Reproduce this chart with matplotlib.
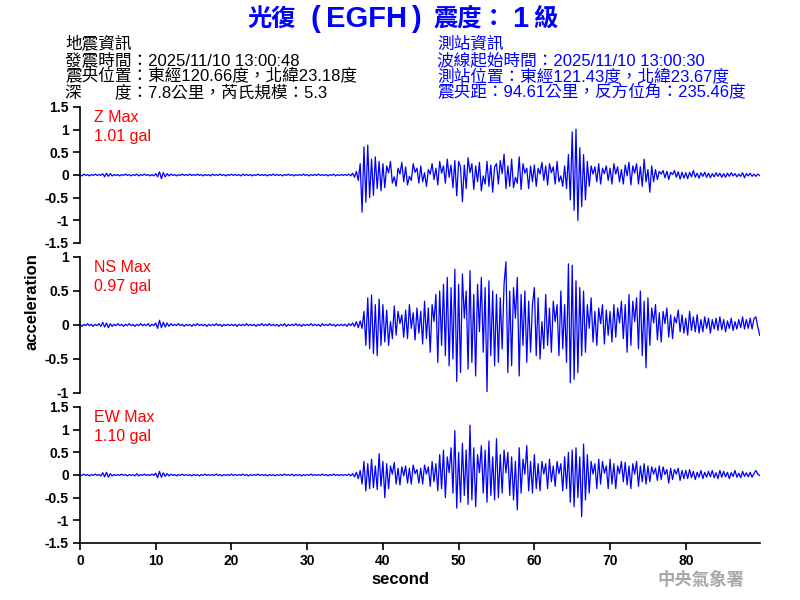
#!/usr/bin/env python3
"""Three-component acceleration record for station EGFH (光復)."""

import numpy as np
import matplotlib
matplotlib.use("Agg")
import matplotlib.pyplot as plt

DT = 0.25  # seconds between samples

# --- waveform samples (gal), 20 samples = 5 s per row ---
z_values = [
    0.01, -0.02, 0.02, -0.01, 0.01, -0.02, 0.01, -0.01, 0.02, -0.01, 0.01, -0.01, 0.03, -0.04, 0.04, -0.03, 0.03, -0.02, 0.01, -0.01,
    0.01, -0.02, 0.01, -0.01, 0.02, -0.01, 0.01, -0.02, 0.01, -0.01, 0.02, -0.02, 0.01, -0.01, 0.02, -0.01, 0.01, -0.02, 0.01, -0.02,
    0.03, -0.04, 0.07, -0.08, 0.05, -0.04, 0.03, -0.02, 0.02, -0.01, 0.01, -0.02, 0.01, -0.01, 0.02, -0.01, 0.01, -0.01, 0.02, -0.01,
    0.01, -0.01, 0.02, -0.01, 0.01, -0.02, 0.01, -0.01, 0.01, -0.02, 0.02, -0.01, 0.01, -0.01, 0.02, -0.01, 0.01, -0.02, 0.01, -0.01,
    0.02, -0.01, 0.01, -0.01, 0.01, -0.02, 0.02, -0.01, 0.01, -0.01, 0.01, -0.02, 0.01, -0.01, 0.02, -0.01, 0.01, -0.01, 0.01, -0.02,
    0.01, -0.01, 0.02, -0.01, 0.01, -0.01, 0.01, -0.02, 0.01, -0.01, 0.02, -0.01, 0.01, -0.02, 0.01, -0.01, 0.01, -0.01, 0.02, -0.01,
    0.01, -0.02, 0.01, -0.01, 0.01, -0.01, 0.02, -0.01, 0.01, -0.01, 0.01, -0.02, 0.01, -0.01, 0.02, -0.02, 0.01, -0.01, 0.01, -0.01,
    0.01, -0.01, 0.02, -0.02, 0.04, -0.05, 0.08, -0.12, 0.25, -0.82, 0.62, -0.6, 0.66, -0.5, 0.35, -0.45, 0.4, -0.3, 0.3, -0.35,
    0.25, -0.28, 0.2, 0.05, 0.3, -0.18, -0.04, -0.25, 0.15, 0.02, 0.28, -0.15, 0.18, -0.22, -0.03, -0.12, 0.25, 0.06, 0.15, -0.18,
    0.2, -0.15, 0.05, -0.25, 0.12, 0.02, 0.25, -0.1, 0.15, -0.22, 0.3, 0.04, 0.2, -0.18, 0.35, -0.05, 0.22, -0.28, 0.32, -0.46,
    0.3, 0.18, -0.59, 0.22, -0.3, 0.38, 0.05, 0.25, -0.32, 0.2, -0.15, 0.28, -0.35, -0.02, -0.2, 0.3, -0.25, 0.22, -0.38, 0.18,
    0.25, -0.2, 0.32, 0.03, 0.46, -0.3, 0.2, -0.25, 0.35, -0.28, -0.05, -0.18, 0.4, -0.32, 0.25, 0.04, 0.15, -0.3, 0.2, -0.15,
    0.22, -0.25, 0.15, 0.02, 0.28, -0.12, 0.2, -0.22, 0.25, 0.05, 0.18, -0.2, 0.3, -0.15, -0.02, -0.25, 0.2, -0.3, 0.45, -0.55,
    0.95, -0.78, 1.01, -1.0, 0.6, -0.7, 0.45, -0.55, 0.3, -0.25, 0.2, 0.02, 0.18, -0.15, 0.25, -0.2, 0.15, 0.03, 0.2, -0.12,
    0.15, -0.2, 0.25, 0.02, 0.18, -0.15, 0.12, -0.2, 0.22, -0.02, 0.28, -0.22, 0.2, 0.04, 0.25, -0.2, 0.18, -0.25, 0.35, -0.15,
    0.12, -0.38, 0.2, -0.15, 0.12, -0.1, 0.08, 0.02, 0.1, -0.06, 0.08, -0.1, 0.06, 0.01, 0.1, -0.05, 0.07, -0.09, 0.06, -0.07,
    0.05, -0.08, 0.06, -0.04, 0.1, -0.05, 0.04, -0.07, 0.05, -0.03, 0.06, -0.05, 0.04, -0.06, 0.03, -0.04, 0.05, -0.03, 0.04, -0.05,
    0.03, -0.05, 0.04, -0.03, 0.05, -0.02, 0.03, -0.04, 0.02, -0.03, 0.05, -0.06, 0.03, -0.02, 0.04, -0.03, 0.02, -0.03, 0.02, -0.01,
]

ns_values = [
    0.01, -0.02, 0.01, -0.01, 0.02, -0.01, 0.01, -0.02, 0.01, -0.01, 0.02, -0.02, 0.04, -0.03, 0.03, -0.04, 0.02, -0.02, 0.01, -0.01,
    0.02, -0.01, 0.01, -0.02, 0.01, -0.01, 0.02, -0.01, 0.01, -0.02, 0.01, -0.01, 0.02, -0.01, 0.01, -0.01, 0.02, -0.02, 0.01, -0.01,
    0.03, -0.05, 0.07, -0.04, 0.04, -0.03, 0.03, -0.02, 0.02, -0.01, 0.01, -0.01, 0.02, -0.01, 0.01, -0.02, 0.01, -0.01, 0.01, -0.02,
    0.01, -0.01, 0.02, -0.01, 0.01, -0.01, 0.01, -0.02, 0.01, -0.01, 0.01, -0.01, 0.02, -0.01, 0.01, -0.02, 0.01, -0.01, 0.01, -0.01,
    0.01, -0.01, 0.01, -0.02, 0.01, -0.01, 0.01, -0.01, 0.02, -0.01, 0.01, -0.01, 0.01, -0.02, 0.01, -0.01, 0.02, -0.01, 0.01, -0.01,
    0.02, -0.01, 0.01, -0.01, 0.01, -0.02, 0.01, -0.01, 0.02, -0.02, 0.01, -0.01, 0.01, -0.01, 0.02, -0.01, 0.01, -0.02, 0.01, -0.01,
    0.01, -0.01, 0.02, -0.01, 0.01, -0.01, 0.01, -0.02, 0.02, -0.01, 0.01, -0.01, 0.02, -0.01, 0.01, -0.02, 0.01, -0.01, 0.01, -0.01,
    0.01, -0.02, 0.02, -0.01, 0.03, -0.02, 0.05, -0.04, 0.06, -0.05, 0.2, -0.3, 0.4, -0.35, 0.44, -0.42, 0.3, -0.45, 0.38, -0.3,
    0.3, -0.25, 0.22, -0.3, 0.05, -0.2, 0.28, -0.15, 0.2, 0.02, 0.15, -0.18, 0.22, -0.2, 0.3, -0.05, 0.18, -0.22, 0.25, -0.12,
    0.2, -0.28, 0.35, -0.2, 0.25, -0.4, 0.3, 0.05, 0.45, -0.55, 0.5, -0.3, 0.6, -0.45, 0.7, -0.6, 0.55, -0.5, 0.82, -0.83,
    0.6, -0.7, 0.75, 0.1, 0.5, -0.65, 0.8, -0.55, 0.45, -0.75, 0.6, -0.1, 0.7, -0.4, 0.55, -0.98, 0.65, -0.45, 0.5, -0.6,
    0.45, -0.55, 0.4, -0.35, 0.6, 0.93, -0.7, 0.5, -0.6, 0.55, 0.1, 0.7, -0.75, 0.45, -0.3, 0.5, -0.55, 0.35, -0.4, 0.3,
    0.55, -0.45, 0.4, -0.5, 0.05, -0.35, 0.45, -0.3, 0.25, -0.4, 0.35, 0.05, 0.3, -0.45, 0.5, -0.35, 0.3, -0.55, 0.9, -0.85,
    0.88, -0.8, 0.65, -0.7, 0.55, -0.45, 0.5, -0.4, 0.3, -0.05, 0.4, -0.25, 0.2, -0.3, 0.25, 0.02, 0.3, -0.28, 0.22, -0.15,
    0.2, -0.25, 0.3, -0.18, 0.25, 0.03, 0.35, -0.2, 0.3, -0.4, 0.45, -0.3, 0.35, 0.05, 0.4, -0.35, 0.5, -0.45, 0.35, -0.63,
    0.4, -0.3, 0.25, 0.03, 0.3, -0.22, 0.18, -0.25, 0.2, 0.02, 0.25, -0.18, 0.15, -0.2, 0.12, 0.03, 0.22, -0.1, 0.15, -0.12,
    0.1, -0.15, 0.2, -0.08, 0.12, -0.1, 0.15, -0.12, 0.08, -0.1, 0.12, -0.05, 0.1, -0.12, 0.08, -0.06, 0.1, -0.08, 0.12, -0.07,
    0.08, -0.1, 0.06, -0.05, 0.1, -0.08, 0.05, -0.06, 0.08, -0.04, 0.12, -0.06, 0.08, -0.05, 0.1, -0.06, 0.09, 0.12, -0.02, -0.15,
]

ew_values = [
    0.01, -0.01, 0.02, -0.01, 0.01, -0.02, 0.01, -0.01, 0.02, -0.01, 0.01, -0.02, 0.05, -0.04, 0.06, -0.05, 0.03, -0.02, 0.01, -0.01,
    0.01, -0.01, 0.02, -0.01, 0.01, -0.02, 0.01, -0.01, 0.01, -0.02, 0.03, -0.02, 0.01, -0.01, 0.02, -0.01, 0.01, -0.01, 0.02, -0.01,
    0.04, -0.06, 0.08, -0.05, 0.05, -0.03, 0.03, -0.02, 0.02, -0.01, 0.01, -0.02, 0.01, -0.01, 0.02, -0.01, 0.01, -0.01, 0.01, -0.02,
    0.01, -0.01, 0.01, -0.02, 0.01, -0.01, 0.02, -0.01, 0.01, -0.01, 0.01, -0.01, 0.02, -0.01, 0.01, -0.02, 0.01, -0.01, 0.01, -0.01,
    0.02, -0.01, 0.01, -0.01, 0.01, -0.01, 0.02, -0.01, 0.01, -0.02, 0.01, -0.01, 0.01, -0.01, 0.02, -0.01, 0.01, -0.01, 0.01, -0.02,
    0.01, -0.01, 0.01, -0.02, 0.01, -0.01, 0.01, -0.01, 0.02, -0.01, 0.01, -0.01, 0.02, -0.02, 0.01, -0.01, 0.01, -0.02, 0.01, -0.01,
    0.01, -0.01, 0.02, -0.01, 0.01, -0.01, 0.01, -0.01, 0.02, -0.01, 0.01, -0.02, 0.01, -0.01, 0.02, -0.01, 0.01, -0.01, 0.01, -0.01,
    0.01, -0.01, 0.02, -0.02, 0.03, -0.04, 0.06, -0.08, 0.1, -0.2, 0.3, -0.35, 0.25, -0.3, 0.35, -0.28, 0.2, -0.32, 0.47, -0.25,
    0.3, -0.5, 0.25, -0.3, 0.2, 0.02, 0.28, -0.2, 0.15, -0.22, 0.18, -0.02, 0.2, -0.18, 0.15, -0.2, 0.22, 0.03, 0.12, -0.18,
    0.15, -0.2, 0.22, 0.02, 0.18, -0.25, 0.3, -0.15, 0.25, -0.35, 0.45, -0.3, 0.55, -0.5, 0.4, 0.05, 0.6, -0.4, 0.98, -0.73,
    0.5, -0.6, 0.7, -0.45, 0.55, -0.65, 1.1, -0.55, 0.6, -0.7, 0.45, 0.05, 0.65, -0.4, 0.55, -0.6, 0.75, -0.45, 0.4, -0.55,
    0.8, -0.5, 0.45, -0.4, 0.55, 0.05, 0.5, -0.45, 0.4, -0.55, 0.3, -0.77, 0.6, -0.4, 0.35, 0.02, 0.65, -0.35, 0.3, -0.4,
    0.45, -0.3, 0.25, -0.35, 0.3, 0.02, 0.25, -0.3, 0.35, -0.15, 0.2, -0.25, 0.3, 0.03, 0.25, -0.35, 0.4, -0.3, 0.5, -0.6,
    0.55, -0.7, 0.6, -0.5, 0.4, -0.92, 0.68, -0.55, 0.45, -0.4, 0.3, 0.02, 0.25, -0.3, 0.35, -0.2, 0.3, 0.04, 0.2, -0.3,
    0.35, -0.2, 0.25, -0.3, 0.2, 0.03, 0.3, -0.15, 0.28, -0.22, 0.2, -0.3, 0.25, 0.02, 0.3, -0.25, 0.2, -0.15, 0.25, -0.2,
    0.2, -0.15, 0.18, 0.02, 0.15, -0.12, 0.2, -0.1, 0.18, 0.01, 0.12, -0.18, 0.15, -0.1, 0.12, 0.02, 0.15, -0.12, 0.1, -0.08,
    0.1, -0.08, 0.12, -0.06, 0.08, -0.1, 0.06, -0.05, 0.1, -0.08, 0.06, -0.05, 0.08, -0.04, 0.1, -0.06, 0.05, -0.08, 0.1, -0.05,
    0.08, -0.04, 0.06, -0.08, 0.05, -0.03, 0.1, -0.05, 0.04, -0.06, 0.08, -0.03, 0.05, -0.04, 0.06, -0.05, 0.03, 0.1, 0.02, -0.01,
]

components = ["Z", "NS", "EW"]
peak_labels = ["1.01 gal", "0.97 gal", "1.10 gal"]
y_limits = [1.5, 1.0, 1.5]
x_ticks = [0, 10, 20, 30, 40, 50, 60, 70, 80]

# title split into CJK / Latin runs (left edge in px, text, latin?)
title_parts = [
    (247, "光復", False),
    (310, "(", True),
    (326, "EGFH", True),
    (411, ")", True),
    (434, "震度：", False),
    (512, "1", True),
    (533, "級", False),
]
quake_info = [
    "地震資訊",
    "發震時間：2025/11/10 13:00:48",
    "震央位置：東經120.66度，北緯23.18度",
    "深\u3000\u3000度：7.8公里，芮氏規模：5.3",
]
station_info = [
    "測站資訊",
    "波線起始時間：2025/11/10 13:00:30",
    "測站位置：東經121.43度，北緯23.67度",
    "震央距：94.61公里，反方位角：235.46度",
]

FONT = ["Liberation Sans", "Noto Sans CJK TC", "DejaVu Sans"]
CJK = ["Noto Sans CJK TC", "DejaVu Sans"]
BLUE = "#0000ff"


def main():
    plt.rcParams["font.family"] = FONT
    fig = plt.figure(figsize=(8, 6), dpi=100)

    traces = [z_values, ns_values, ew_values]
    # panel tops/bottoms in figure pixels
    panels = [(107, 243), (257, 393), (407, 543)]

    for i, (top, bottom) in enumerate(panels):
        ax = fig.add_axes([80 / 800, 1 - bottom / 600, 680 / 800, (bottom - top) / 600])
        data = np.array(traces[i])
        t = np.arange(len(data)) * DT
        ax.plot(t, data, color=BLUE, lw=0.9)
        lim = y_limits[i]
        ax.set_ylim(-lim, lim)
        ax.set_xlim(0, 89.8)
        ticks = np.arange(-lim, lim + 0.01, 0.5)
        ax.set_yticks(ticks)
        ax.set_yticklabels([f"{v:g}" for v in ticks])
        for side in ["top", "right"]:
            ax.spines[side].set_visible(False)
        ax.spines["left"].set_linewidth(1.2)
        ax.tick_params(axis="y", direction="out", length=5, width=1.2, labelsize=10, pad=3)
        for lab in ax.get_yticklabels():
            lab.set_fontweight("bold")
        if i < 2:
            ax.spines["bottom"].set_visible(False)
            ax.set_xticks([])
        else:
            ax.spines["bottom"].set_linewidth(1.2)
            ax.set_xticks(x_ticks)
            ax.tick_params(axis="x", direction="out", length=5, width=1.2, labelsize=10, pad=3)
            for lab in ax.get_xticklabels():
                lab.set_fontweight("bold")

        fig.text(94 / 800, 1 - (top + 10) / 600, f"{components[i]} Max",
                 color="red", fontsize=11.5, va="center", ha="left")
        fig.text(94 / 800, 1 - (top + 30) / 600, peak_labels[i],
                 color="red", fontsize=11.5, va="center", ha="left")

    for x, txt, latin in title_parts:
        fig.text(x / 800, 1 - 19 / 600, txt, color=BLUE,
                 fontsize=21 if latin else 17.5, fontweight="bold",
                 family=FONT if latin else CJK, ha="left", va="center")
    for k, line in enumerate(quake_info):
        fig.text(65 / 800, 1 - (44 + 16 * k) / 600, line, color="black",
                 fontsize=12, ha="left", va="center")
    for k, line in enumerate(station_info):
        fig.text(437 / 800, 1 - (44 + 16 * k) / 600, line, color=BLUE,
                 fontsize=12, ha="left", va="center")

    fig.text(32 / 800, 1 - 302 / 600, "acceleration", rotation=90,
             fontsize=12, fontweight="bold", ha="center", va="center")
    fig.text(400 / 800, 1 - 580 / 600, "second", fontsize=12,
             fontweight="bold", ha="center", va="center")
    fig.text(701 / 800, 1 - 580 / 600, "中央氣象署", color="#a8a8a8",
             fontsize=12.5, fontweight="bold", family=CJK, ha="center", va="center")

    fig.savefig("out.png", dpi=100)


if __name__ == "__main__":
    main()
